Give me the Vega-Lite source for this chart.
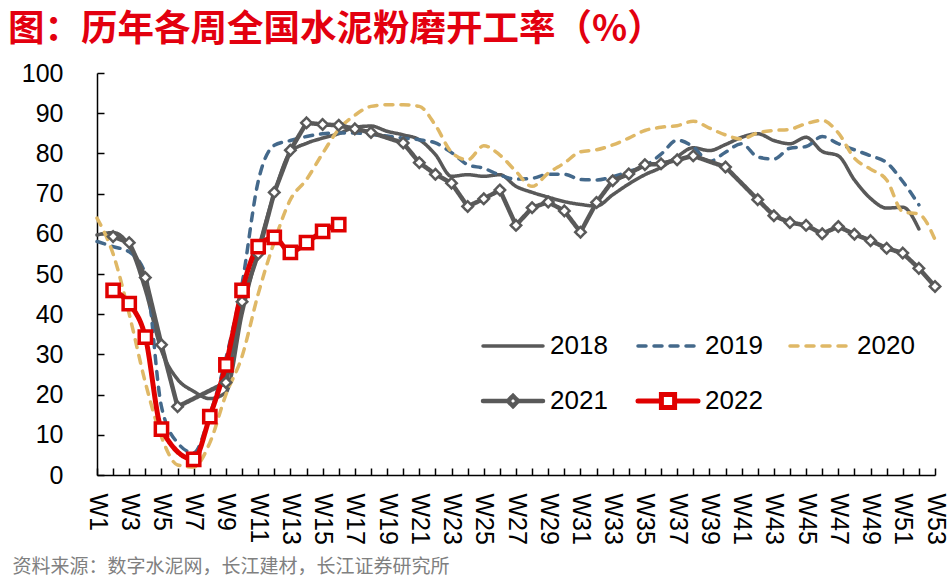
{
  "$schema": "https://vega.github.io/schema/vega-lite/v6.json",
  "width": 838,
  "height": 402,
  "autosize": {"type": "none"},
  "padding": {"left": 97, "top": 73, "right": 16, "bottom": 106},
  "title": {
    "text": "图：历年各周全国水泥粉磨开工率（%）",
    "anchor": "start",
    "frame": "group",
    "dx": -89,
    "offset": 13,
    "font": "Noto Sans CJK SC",
    "fontSize": 36.5,
    "fontWeight": "bold",
    "color": "#e3000f"
  },
  "datasets": {
    "rates": [
      {"year": "2018", "week": 1, "value": 59.7},
      {"year": "2018", "week": 2, "value": 60.3},
      {"year": "2018", "week": 3, "value": 57},
      {"year": "2018", "week": 4, "value": 46},
      {"year": "2018", "week": 5, "value": 31},
      {"year": "2018", "week": 6, "value": 23.8},
      {"year": "2018", "week": 7, "value": 20.8},
      {"year": "2018", "week": 8, "value": 19},
      {"year": "2018", "week": 9, "value": 20.5},
      {"year": "2018", "week": 10, "value": 40},
      {"year": "2018", "week": 11, "value": 56},
      {"year": "2018", "week": 12, "value": 70},
      {"year": "2018", "week": 13, "value": 80.3},
      {"year": "2018", "week": 14, "value": 82.5},
      {"year": "2018", "week": 15, "value": 83.8},
      {"year": "2018", "week": 16, "value": 84.9},
      {"year": "2018", "week": 17, "value": 86.5},
      {"year": "2018", "week": 18, "value": 86.8},
      {"year": "2018", "week": 19, "value": 85.5},
      {"year": "2018", "week": 20, "value": 84.6},
      {"year": "2018", "week": 21, "value": 83.4},
      {"year": "2018", "week": 22, "value": 79.7},
      {"year": "2018", "week": 23, "value": 74.3},
      {"year": "2018", "week": 24, "value": 74.7},
      {"year": "2018", "week": 25, "value": 74.3},
      {"year": "2018", "week": 26, "value": 74.7},
      {"year": "2018", "week": 27, "value": 71.8},
      {"year": "2018", "week": 28, "value": 70.3},
      {"year": "2018", "week": 29, "value": 69.1},
      {"year": "2018", "week": 30, "value": 68},
      {"year": "2018", "week": 31, "value": 67.3},
      {"year": "2018", "week": 32, "value": 66.9},
      {"year": "2018", "week": 33, "value": 69.7},
      {"year": "2018", "week": 34, "value": 72.4},
      {"year": "2018", "week": 35, "value": 74.7},
      {"year": "2018", "week": 36, "value": 76.5},
      {"year": "2018", "week": 37, "value": 79.2},
      {"year": "2018", "week": 38, "value": 81.4},
      {"year": "2018", "week": 39, "value": 80.7},
      {"year": "2018", "week": 40, "value": 82.2},
      {"year": "2018", "week": 41, "value": 84},
      {"year": "2018", "week": 42, "value": 84.9},
      {"year": "2018", "week": 43, "value": 83.2},
      {"year": "2018", "week": 44, "value": 82.4},
      {"year": "2018", "week": 45, "value": 84},
      {"year": "2018", "week": 46, "value": 80.5},
      {"year": "2018", "week": 47, "value": 79.4},
      {"year": "2018", "week": 48, "value": 73.4},
      {"year": "2018", "week": 49, "value": 68.8},
      {"year": "2018", "week": 50, "value": 66.4},
      {"year": "2018", "week": 51, "value": 66.6},
      {"year": "2018", "week": 52, "value": 61.2},
      {"year": "2019", "week": 1, "value": 58.1},
      {"year": "2019", "week": 2, "value": 56.8},
      {"year": "2019", "week": 3, "value": 55.5},
      {"year": "2019", "week": 4, "value": 50},
      {"year": "2019", "week": 5, "value": 17},
      {"year": "2019", "week": 6, "value": 8},
      {"year": "2019", "week": 7, "value": 5.5},
      {"year": "2019", "week": 8, "value": 15},
      {"year": "2019", "week": 9, "value": 29},
      {"year": "2019", "week": 10, "value": 47.5},
      {"year": "2019", "week": 11, "value": 73},
      {"year": "2019", "week": 12, "value": 82},
      {"year": "2019", "week": 13, "value": 83.2},
      {"year": "2019", "week": 14, "value": 84.2},
      {"year": "2019", "week": 15, "value": 84.9},
      {"year": "2019", "week": 16, "value": 85.1},
      {"year": "2019", "week": 17, "value": 85.1},
      {"year": "2019", "week": 18, "value": 84.7},
      {"year": "2019", "week": 19, "value": 84.3},
      {"year": "2019", "week": 20, "value": 83.8},
      {"year": "2019", "week": 21, "value": 83.4},
      {"year": "2019", "week": 22, "value": 82.6},
      {"year": "2019", "week": 23, "value": 80.2},
      {"year": "2019", "week": 24, "value": 77.2},
      {"year": "2019", "week": 25, "value": 76.3},
      {"year": "2019", "week": 26, "value": 74.6},
      {"year": "2019", "week": 27, "value": 73.6},
      {"year": "2019", "week": 28, "value": 73.8},
      {"year": "2019", "week": 29, "value": 74.8},
      {"year": "2019", "week": 30, "value": 74.8},
      {"year": "2019", "week": 31, "value": 73.5},
      {"year": "2019", "week": 32, "value": 73.4},
      {"year": "2019", "week": 33, "value": 74.2},
      {"year": "2019", "week": 34, "value": 75.5},
      {"year": "2019", "week": 35, "value": 76.9},
      {"year": "2019", "week": 36, "value": 79.8},
      {"year": "2019", "week": 37, "value": 83.3},
      {"year": "2019", "week": 38, "value": 81.6},
      {"year": "2019", "week": 39, "value": 78},
      {"year": "2019", "week": 40, "value": 80.3},
      {"year": "2019", "week": 41, "value": 82.4},
      {"year": "2019", "week": 42, "value": 79.1},
      {"year": "2019", "week": 43, "value": 78.6},
      {"year": "2019", "week": 44, "value": 81.3},
      {"year": "2019", "week": 45, "value": 81.7},
      {"year": "2019", "week": 46, "value": 84.2},
      {"year": "2019", "week": 47, "value": 82.4},
      {"year": "2019", "week": 48, "value": 80.9},
      {"year": "2019", "week": 49, "value": 79.4},
      {"year": "2019", "week": 50, "value": 77.7},
      {"year": "2019", "week": 51, "value": 73},
      {"year": "2019", "week": 52, "value": 67.2},
      {"year": "2020", "week": 1, "value": 63.9},
      {"year": "2020", "week": 2, "value": 55},
      {"year": "2020", "week": 3, "value": 40},
      {"year": "2020", "week": 4, "value": 23},
      {"year": "2020", "week": 5, "value": 9.5},
      {"year": "2020", "week": 6, "value": 2.5},
      {"year": "2020", "week": 7, "value": 2},
      {"year": "2020", "week": 8, "value": 8},
      {"year": "2020", "week": 9, "value": 20},
      {"year": "2020", "week": 10, "value": 29.5},
      {"year": "2020", "week": 11, "value": 45},
      {"year": "2020", "week": 12, "value": 58},
      {"year": "2020", "week": 13, "value": 68.5},
      {"year": "2020", "week": 14, "value": 73.5},
      {"year": "2020", "week": 15, "value": 80},
      {"year": "2020", "week": 16, "value": 86},
      {"year": "2020", "week": 17, "value": 89.5},
      {"year": "2020", "week": 18, "value": 91.7},
      {"year": "2020", "week": 19, "value": 92.1},
      {"year": "2020", "week": 20, "value": 92.1},
      {"year": "2020", "week": 21, "value": 91.7},
      {"year": "2020", "week": 22, "value": 87},
      {"year": "2020", "week": 23, "value": 80.3},
      {"year": "2020", "week": 24, "value": 78.4},
      {"year": "2020", "week": 25, "value": 81.9},
      {"year": "2020", "week": 26, "value": 79.6},
      {"year": "2020", "week": 27, "value": 75.5},
      {"year": "2020", "week": 28, "value": 71.8},
      {"year": "2020", "week": 29, "value": 75.1},
      {"year": "2020", "week": 30, "value": 77.6},
      {"year": "2020", "week": 31, "value": 80.4},
      {"year": "2020", "week": 32, "value": 80.9},
      {"year": "2020", "week": 33, "value": 82.1},
      {"year": "2020", "week": 34, "value": 83.8},
      {"year": "2020", "week": 35, "value": 85.7},
      {"year": "2020", "week": 36, "value": 86.5},
      {"year": "2020", "week": 37, "value": 86.9},
      {"year": "2020", "week": 38, "value": 88},
      {"year": "2020", "week": 39, "value": 86.3},
      {"year": "2020", "week": 40, "value": 84.6},
      {"year": "2020", "week": 41, "value": 83.6},
      {"year": "2020", "week": 42, "value": 85.1},
      {"year": "2020", "week": 43, "value": 85.7},
      {"year": "2020", "week": 44, "value": 86},
      {"year": "2020", "week": 45, "value": 87.4},
      {"year": "2020", "week": 46, "value": 88.2},
      {"year": "2020", "week": 47, "value": 85.1},
      {"year": "2020", "week": 48, "value": 78.8},
      {"year": "2020", "week": 49, "value": 76.1},
      {"year": "2020", "week": 50, "value": 73.4},
      {"year": "2020", "week": 51, "value": 65.5},
      {"year": "2020", "week": 52, "value": 64.9},
      {"year": "2020", "week": 53, "value": 58.6},
      {"year": "2021", "week": 2, "value": 59.3},
      {"year": "2021", "week": 3, "value": 57.8},
      {"year": "2021", "week": 4, "value": 49.1},
      {"year": "2021", "week": 5, "value": 32.4},
      {"year": "2021", "week": 6, "value": 17},
      {"year": "2021", "week": 9, "value": 23},
      {"year": "2021", "week": 10, "value": 43.1},
      {"year": "2021", "week": 11, "value": 55},
      {"year": "2021", "week": 12, "value": 70.3},
      {"year": "2021", "week": 13, "value": 80.8},
      {"year": "2021", "week": 14, "value": 87.6},
      {"year": "2021", "week": 15, "value": 87.2},
      {"year": "2021", "week": 16, "value": 87},
      {"year": "2021", "week": 17, "value": 86.1},
      {"year": "2021", "week": 18, "value": 85.2},
      {"year": "2021", "week": 20, "value": 82.6},
      {"year": "2021", "week": 21, "value": 77.7},
      {"year": "2021", "week": 22, "value": 74.8},
      {"year": "2021", "week": 23, "value": 72.6},
      {"year": "2021", "week": 24, "value": 66.8},
      {"year": "2021", "week": 25, "value": 68.7},
      {"year": "2021", "week": 26, "value": 70.9},
      {"year": "2021", "week": 27, "value": 62.1},
      {"year": "2021", "week": 28, "value": 66.5},
      {"year": "2021", "week": 29, "value": 67.9},
      {"year": "2021", "week": 30, "value": 65.7},
      {"year": "2021", "week": 31, "value": 60.4},
      {"year": "2021", "week": 32, "value": 67.8},
      {"year": "2021", "week": 33, "value": 73.2},
      {"year": "2021", "week": 34, "value": 74.9},
      {"year": "2021", "week": 35, "value": 77.2},
      {"year": "2021", "week": 36, "value": 77.4},
      {"year": "2021", "week": 37, "value": 78.4},
      {"year": "2021", "week": 38, "value": 79.4},
      {"year": "2021", "week": 40, "value": 76.6},
      {"year": "2021", "week": 42, "value": 68.5},
      {"year": "2021", "week": 43, "value": 64.5},
      {"year": "2021", "week": 44, "value": 62.8},
      {"year": "2021", "week": 45, "value": 62.1},
      {"year": "2021", "week": 46, "value": 60},
      {"year": "2021", "week": 47, "value": 61.8},
      {"year": "2021", "week": 48, "value": 59.9},
      {"year": "2021", "week": 49, "value": 58.3},
      {"year": "2021", "week": 50, "value": 56.4},
      {"year": "2021", "week": 51, "value": 55.2},
      {"year": "2021", "week": 52, "value": 51.4},
      {"year": "2021", "week": 53, "value": 46.9},
      {"year": "2022", "week": 2, "value": 45.9},
      {"year": "2022", "week": 3, "value": 42.6},
      {"year": "2022", "week": 4, "value": 34.3},
      {"year": "2022", "week": 5, "value": 11.4},
      {"year": "2022", "week": 7, "value": 3.9},
      {"year": "2022", "week": 8, "value": 14.5},
      {"year": "2022", "week": 9, "value": 27.4},
      {"year": "2022", "week": 10, "value": 45.9},
      {"year": "2022", "week": 11, "value": 56.8},
      {"year": "2022", "week": 12, "value": 59.1},
      {"year": "2022", "week": 13, "value": 55.4},
      {"year": "2022", "week": 14, "value": 57.8},
      {"year": "2022", "week": 15, "value": 60.6},
      {"year": "2022", "week": 16, "value": 62.3}
    ]
  },
  "data": {"name": "rates"},
  "encoding": {
    "x": {
      "field": "week",
      "type": "quantitative",
      "scale": {"domain": [1, 53], "nice": false, "zero": false},
      "axis": {
        "values": [1,2,3,4,5,6,7,8,9,10,11,12,13,14,15,16,17,18,19,20,21,22,23,24,25,26,27,28,29,30,31,32,33,34,35,36,37,38,39,40,41,42,43,44,45,46,47,48,49,50,51,52,53],
        "labelExpr": "datum.value % 2 == 1 ? 'W' + datum.value : ''",
        "labelAngle": 90,
        "labelAlign": "left",
        "labelBaseline": "middle",
        "labelPadding": 25,
        "labelFlush": false,
        "labelOverlap": false,
        "labelBound": false,
        "tickSize": -7,
        "title": "资料来源：数字水泥网，长江建材，长江证券研究所",
        "titleFont": "Noto Sans CJK SC",
        "titleFontSize": 19,
        "titleFontWeight": "normal",
        "titleColor": "#808080",
        "titleAnchor": "start",
        "titleAlign": "left",
        "titleBaseline": "middle",
        "titleX": -85,
        "titleY": 91
      }
    },
    "y": {
      "field": "value",
      "type": "quantitative",
      "scale": {"domain": [0, 100], "nice": false},
      "axis": {
        "values": [0, 10, 20, 30, 40, 50, 60, 70, 80, 90, 100],
        "tickSize": -7,
        "labelPadding": 41,
        "title": null
      }
    },
    "color": {
      "field": "year",
      "type": "nominal",
      "scale": {
        "domain": ["2018", "2019", "2020", "2021", "2022"],
        "range": ["#595959", "#44698b", "#dfb866", "#595959", "#e00000"]
      },
      "legend": {
        "title": null,
        "orient": "none",
        "legendX": 383,
        "legendY": 260,
        "columns": 3,
        "direction": "horizontal",
        "symbolType": "stroke",
        "symbolSize": 3600,
        "symbolOffset": 20,
        "labelFont": "Liberation Sans",
        "labelFontSize": 26,
        "labelColor": "black",
        "labelOffset": 24,
        "columnPadding": 20,
        "rowPadding": 25,
        "encode": {
          "symbols": {
            "update": {
              "shape": {"signal": "datum.value == '2021' ? 'M-1,0L-0.17,0M0.17,0L1,0M0,-0.17L0.17,0L0,0.17L-0.17,0Z' : datum.value == '2022' ? 'M-1,0L-0.22,0M0.22,0L1,0M-0.22,-0.22L0.22,-0.22L0.22,0.22L-0.22,0.22Z' : 'M-1,0L1,0'"},
              "fill": {"signal": "datum.value == '2021' || datum.value == '2022' ? 'white' : 'transparent'"},
              "strokeWidth": {"signal": "datum.value == '2022' ? 5 : datum.value == '2021' ? 4.5 : 3.5"},
              "strokeCap": {"value": "round"},
              "opacity": {"value": 1}
            }
          }
        }
      }
    },
    "strokeDash": {
      "field": "year",
      "type": "nominal",
      "scale": {
        "domain": ["2018", "2019", "2020", "2021", "2022"],
        "range": [[1, 0], [8, 8], [8, 8], [1, 0], [1, 0]]
      }
    }
  },
  "layer": [
    {
      "transform": [{"filter": "datum.year == '2018' || datum.year == '2019' || datum.year == '2020'"}],
      "mark": {"type": "line", "interpolate": "monotone", "strokeWidth": 3.5, "strokeCap": "round"}
    },
    {
      "transform": [{"filter": "datum.year == '2021'"}],
      "mark": {"type": "line", "strokeWidth": 4.5, "strokeCap": "round", "strokeJoin": "round"}
    },
    {
      "transform": [{"filter": "datum.year == '2022'"}],
      "mark": {"type": "line", "interpolate": "monotone", "strokeWidth": 5, "strokeCap": "round"}
    },
    {
      "transform": [{"filter": "datum.year == '2021'"}],
      "mark": {"type": "point", "shape": "diamond", "filled": false, "fill": "white", "size": 110, "strokeWidth": 2.5, "opacity": 1},
      "encoding": {"strokeDash": {"value": [1, 0]}}
    },
    {
      "transform": [{"filter": "datum.year == '2022'"}],
      "mark": {"type": "point", "shape": "square", "filled": false, "fill": "white", "size": 150, "strokeWidth": 3.5, "opacity": 1},
      "encoding": {"strokeDash": {"value": [1, 0]}}
    }
  ],
  "config": {
    "view": {"stroke": null},
    "axis": {
      "grid": false,
      "domainColor": "black",
      "domainWidth": 1.5,
      "tickColor": "black",
      "tickWidth": 1.5,
      "labelColor": "black",
      "labelFont": "Liberation Sans",
      "labelFontSize": 25
    }
  }
}
